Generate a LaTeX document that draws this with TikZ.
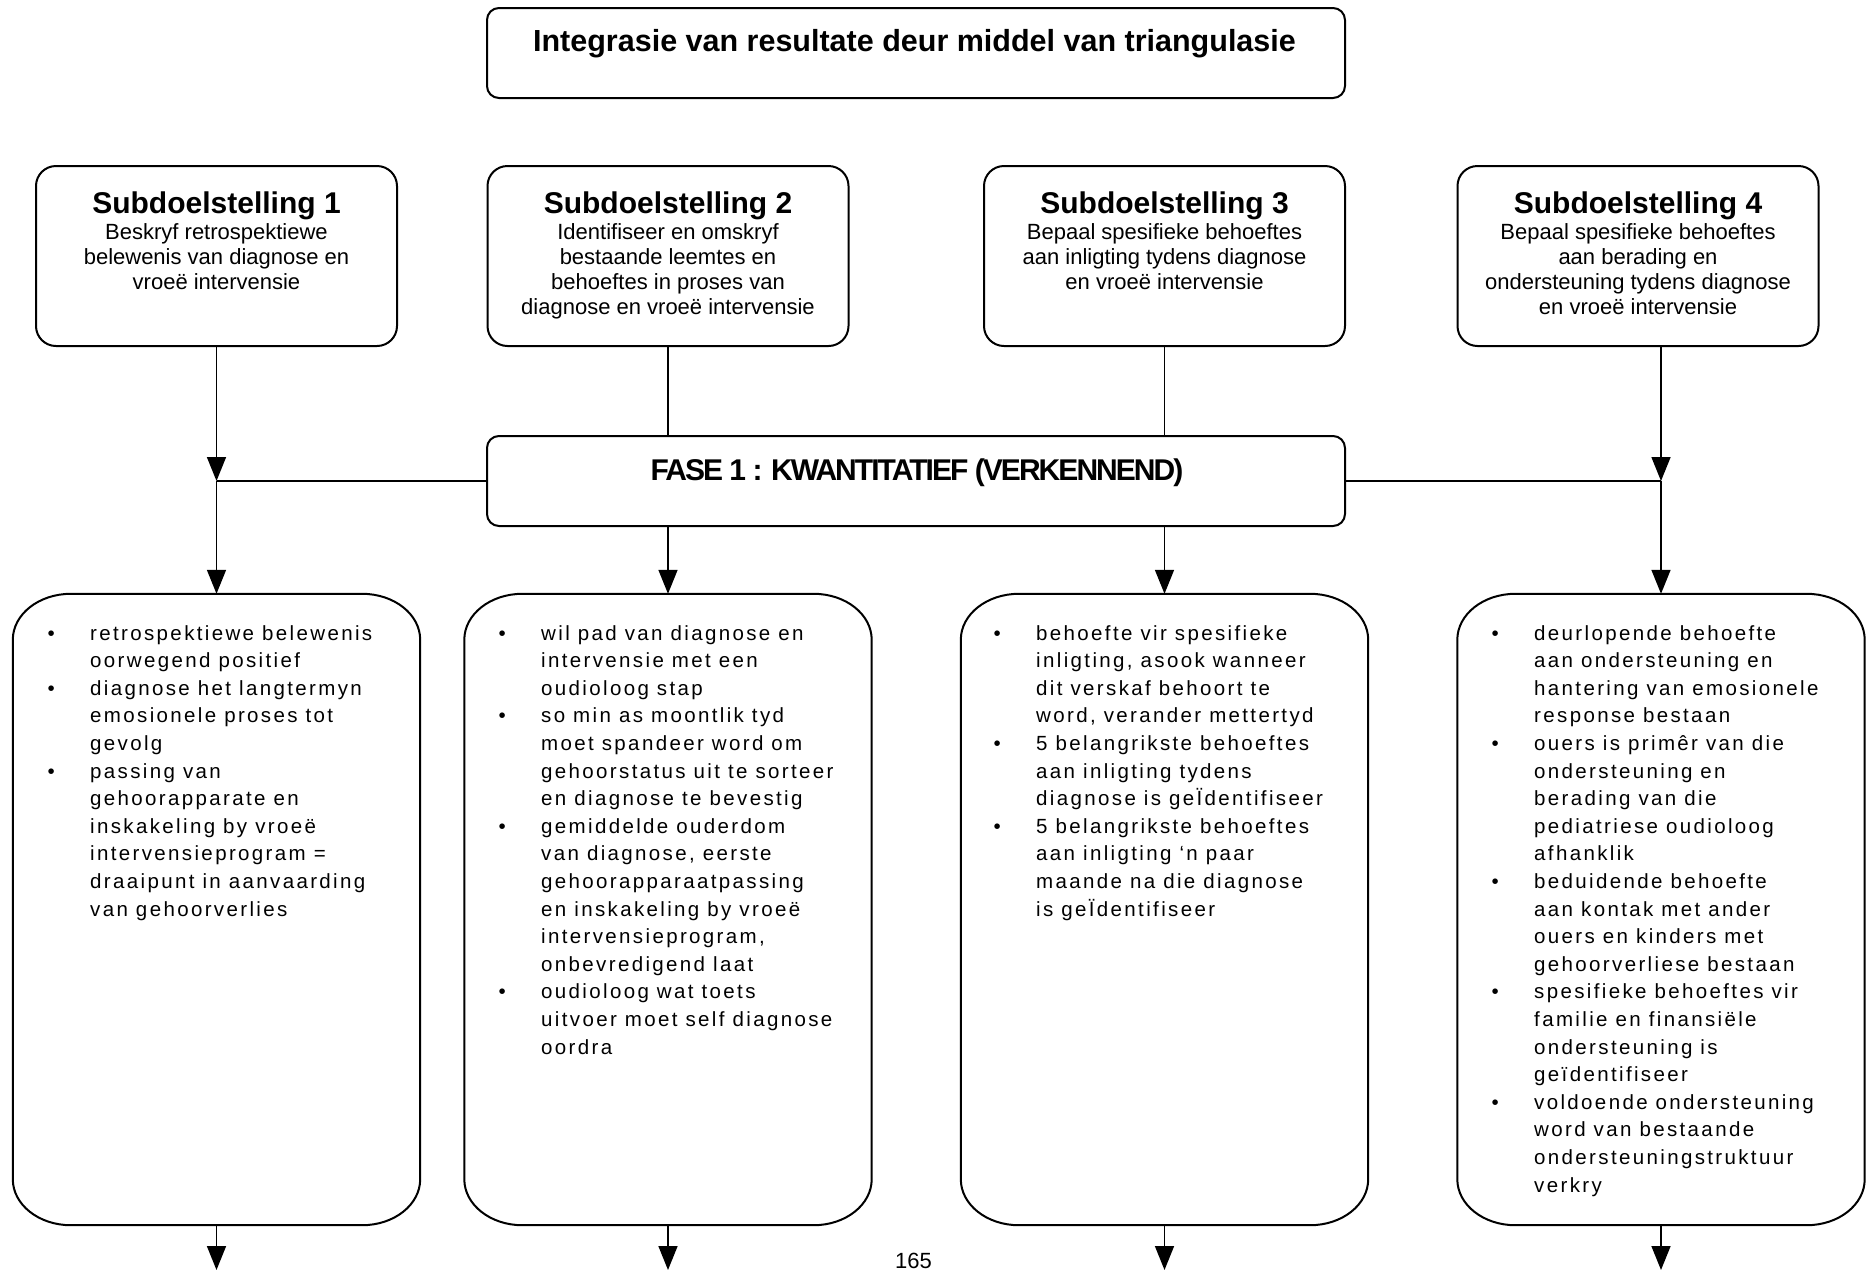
\documentclass[tikz,border=0pt]{standalone}
\usepackage{fontspec}
\setmainfont{Liberation Sans}
\newfontfamily\btxt{Liberation Sans}[LetterSpace=11.5]
\newfontfamily\fasefont{Liberation Sans}[LetterSpace=-6.5]
\usetikzlibrary{arrows.meta}
\newcommand{\bul}{\llap{\makebox[42.5pt][l]{\textbullet}}}
\newcommand{\ebox}[1]{%
 \draw[line width=2pt] ([xshift=58pt]#1.north west) -- ([xshift=-58pt]#1.north east)
   arc[start angle=90,end angle=0,x radius=58pt,y radius=46pt]
   -- ([yshift=46pt]#1.south east)
   arc[start angle=0,end angle=-90,x radius=58pt,y radius=46pt]
   -- ([xshift=58pt]#1.south west)
   arc[start angle=270,end angle=180,x radius=58pt,y radius=46pt]
   -- ([yshift=-46pt]#1.north west)
   arc[start angle=180,end angle=90,x radius=58pt,y radius=46pt] -- cycle;}
\begin{document}
\begin{tikzpicture}[x=1pt,y=-1pt,
  box/.style={draw, line width=2pt, rounded corners=#1, inner sep=0pt},
  box/.default=12pt,
  subbox/.style={box=20pt, minimum width=361pt, minimum height=180pt},
  bigbox/.style={inner sep=0pt, minimum width=407pt, minimum height=631pt},
  subtitle/.style={anchor=base, inner sep=0pt, font=\fontsize{30}{36}\selectfont\bfseries},
  subbody/.style={anchor=base, inner sep=0pt, font=\fontsize{22}{25}\selectfont},
  btext/.style={anchor=base west, inner sep=0pt, font=\btxt\fontsize{20.5}{27.6}\selectfont},
  conn/.style={line width=1.6pt, -{Triangle[length=24pt,width=19pt]}},
  plain/.style={line width=1.6pt},
  hline/.style={line width=2.8pt}]
\useasboundingbox (0,0) rectangle (1869,1270);

% title
\node[box=12pt, minimum width=858pt, minimum height=90pt] (top) at (916,53) {};
\node[anchor=base, inner sep=0pt, font=\fontsize{30.5}{36}\selectfont\bfseries] (toptxt) at (914.5,51) {Integrasie van resultate deur middel van triangulasie};

% sub boxes
\node[subbox] (s1) at (216.5,256) {};
\node[subbox] (s2) at (668,256) {};
\node[subbox] (s3) at (1164.5,256) {};
\node[subbox] (s4) at (1638,256) {};
\node[subtitle] (s1t) at (s1.center |- 0,213) {Subdoelstelling 1};
\node[subtitle] (s2t) at (s2.center |- 0,213) {Subdoelstelling 2};
\node[subtitle] (s3t) at (s3.center |- 0,213) {Subdoelstelling 3};
\node[subtitle] (s4t) at (s4.center |- 0,213) {Subdoelstelling 4};
\node[subbody] (s1b) at (s1.center |- 0,239.5) {\begin{tabular}[t]{@{}c@{}}Beskryf retrospektiewe\\belewenis van diagnose en\\vroeë intervensie\end{tabular}};
\node[subbody] (s2b) at (s2.center |- 0,239.5) {\begin{tabular}[t]{@{}c@{}}Identifiseer en omskryf\\bestaande leemtes en\\behoeftes in proses van\\diagnose en vroeë intervensie\end{tabular}};
\node[subbody] (s3b) at (s3.center |- 0,239.5) {\begin{tabular}[t]{@{}c@{}}Bepaal spesifieke behoeftes\\aan inligting tydens diagnose\\en vroeë intervensie\end{tabular}};
\node[subbody] (s4b) at (s4.center |- 0,239.5) {\begin{tabular}[t]{@{}c@{}}Bepaal spesifieke behoeftes\\aan berading en\\ondersteuning tydens diagnose\\en vroeë intervensie\end{tabular}};

% fase
\node[box=12pt, minimum width=858pt, minimum height=90pt] (fase) at (916,481) {};
\node[anchor=base, inner sep=0pt, font=\fasefont\bfseries\fontsize{30}{34}\selectfont] (fasetxt) at (917,480.5) {FASE 1 : KWANTITATIEF (VERKENNEND)};

% bottom boxes
\node[bigbox] (b1) at (216.5,909.5) {};
\node[bigbox] (b2) at (668,909.5) {};
\node[bigbox] (b3) at (1164.5,909.5) {};
\node[bigbox] (b4) at (1661,909.5) {};
\ebox{b1}\ebox{b2}\ebox{b3}\ebox{b4}

\node[btext] (t1) at (90,640) {\begin{tabular}[t]{@{}l@{}}
\bul retrospektiewe belewenis\\
oorwegend positief\\
\bul diagnose het langtermyn\\
emosionele proses tot\\
gevolg\\
\bul passing van\\
gehoorapparate en\\
inskakeling by vroeë\\
intervensieprogram =\\
draaipunt in aanvaarding\\
van gehoorverlies\end{tabular}};

\node[btext] (t2) at (541,640) {\begin{tabular}[t]{@{}l@{}}
\bul wil pad van diagnose en\\
intervensie met een\\
oudioloog stap\\
\bul so min as moontlik tyd\\
moet spandeer word om\\
gehoorstatus uit te sorteer\\
en diagnose te bevestig\\
\bul gemiddelde ouderdom\\
van diagnose, eerste\\
gehoorapparaatpassing\\
en inskakeling by vroeë\\
intervensieprogram,\\
onbevredigend laat\\
\bul oudioloog wat toets\\
uitvoer moet self diagnose\\
oordra\end{tabular}};

\node[btext] (t3) at (1036,640) {\begin{tabular}[t]{@{}l@{}}
\bul behoefte vir spesifieke\\
inligting, asook wanneer\\
dit verskaf behoort te\\
word, verander mettertyd\\
\bul 5 belangrikste behoeftes\\
aan inligting tydens\\
diagnose is geÏdentifiseer\\
\bul 5 belangrikste behoeftes\\
aan inligting ‘n paar\\
maande na die diagnose\\
is geÏdentifiseer\end{tabular}};

\node[btext] (t4) at (1534,640) {\begin{tabular}[t]{@{}l@{}}
\bul deurlopende behoefte\\
aan ondersteuning en\\
hantering van emosionele\\
response bestaan\\
\bul ouers is primêr van die\\
ondersteuning en\\
berading van die\\
pediatriese oudioloog\\
afhanklik\\
\bul beduidende behoefte\\
aan kontak met ander\\
ouers en kinders met\\
gehoorverliese bestaan\\
\bul spesifieke behoeftes vir\\
familie en finansiële\\
ondersteuning is\\
geïdentifiseer\\
\bul voldoende ondersteuning\\
word van bestaande\\
ondersteuningstruktuur\\
verkry\end{tabular}};

% connectors
\coordinate (j1) at (b1.north |- fase.west);
\coordinate (j4) at (b4.north |- fase.west);
\draw[conn] (s1.south) -- (j1);
\draw[conn] (j1) -- (b1.north);
\draw[plain] (s2.south) -- (s2.south |- fase.north);
\draw[conn] (b2.north |- fase.south) -- (b2.north);
\draw[plain] (s3.south) -- (s3.south |- fase.north);
\draw[conn] (b3.north |- fase.south) -- (b3.north);
\draw[conn] (s4.south -| j4) -- (j4);
\draw[conn] (j4) -- (b4.north);
\draw[hline] (fase.west) -- (j1);
\draw[hline] (fase.east) -- (j4);
\coordinate (e1) at (b1.south |- 0,1270);
\coordinate (e2) at (b2.south |- 0,1270);
\coordinate (e3) at (b3.south |- 0,1270);
\coordinate (e4) at (b4.south |- 0,1270);
\draw[conn] (b1.south) -- (e1);
\draw[conn] (b2.south) -- (e2);
\draw[conn] (b3.south) -- (e3);
\draw[conn] (b4.south) -- (e4);

\node[anchor=base, inner sep=0pt, font=\fontsize{22}{26}\selectfont] (pg) at (913.5,1268) {165};
\end{tikzpicture}
\end{document}
